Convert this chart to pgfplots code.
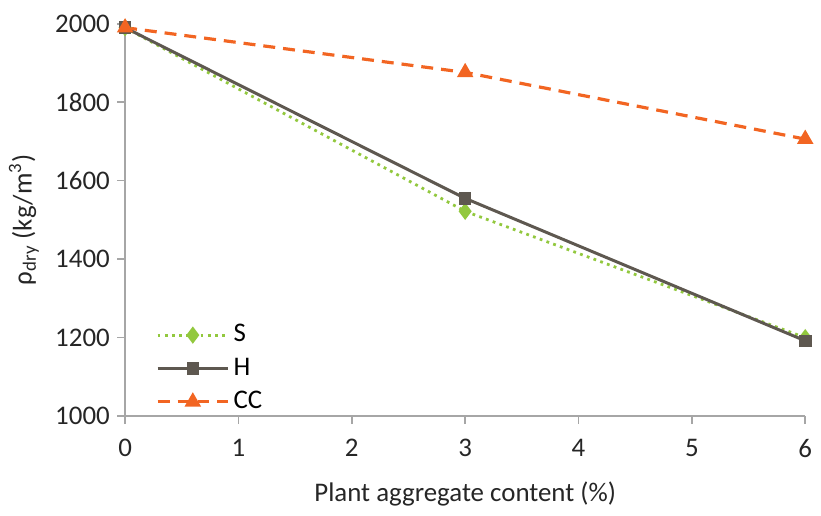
\documentclass[border=0pt]{standalone}
\usepackage{pgfplots}
\pgfplotsset{compat=1.18}
\usepackage{fontspec}
\setmainfont{Carlito}
\definecolor{sgreen}{HTML}{92C83E}
\definecolor{hgray}{HTML}{5E5850}
\definecolor{ccorange}{HTML}{F26522}
\definecolor{axgray}{HTML}{A6A6A6}
\begin{document}
\fontsize{13.5}{16}\selectfont
\begin{tikzpicture}
\begin{axis}[
  scale only axis,
  width=341.5pt, height=197pt,
  xmin=0, xmax=6, ymin=1000, ymax=2000,
  xtick={0,1,2,3,4,5,6},
  ytick={1000,1200,1400,1600,1800,2000},
  axis x line*=bottom, axis y line*=left,
  axis line style={axgray, line width=0.8pt, -},
  tick style={axgray, line width=0.8pt},
  major tick length=4pt,
  tick align=outside,
  clip=false,
  /pgf/number format/assume math mode=true,
  /pgf/number format/1000 sep={},
  tick label style={font=\fontsize{13.5}{16}\selectfont, color=black!85},
  xticklabel style={yshift=-3pt},
  yticklabel style={xshift=1pt},
  xlabel={Plant aggregate content (\%)},
  ylabel={ρ\textsubscript{dry} (kg/m\textsuperscript{3})},
  label style={font=\fontsize{13.5}{16}\selectfont, color=black!85},
  xlabel style={yshift=-3pt},
  ylabel style={yshift=-1pt},
  legend style={draw=none, fill=none, at={(0.045,0.245)}, anchor=north west,
    font=\fontsize{13.5}{16}\selectfont, row sep=2pt, inner sep=0pt},
  legend cell align=left,
  legend image code/.code={
    \draw[mark repeat=2, mark phase=2, #1] plot coordinates {(0cm,0cm) (0.62cm,0cm) (1.24cm,0cm)};
  },
]
\addplot[sgreen, line width=1.4pt, dash pattern=on 1.4pt off 2.2pt, mark=diamond*,
  mark size=3.2pt, mark options={solid, fill=sgreen, draw=sgreen}]
  coordinates {(0,1990) (3,1522) (6,1200)};
\addlegendentry{S}
\addplot[hgray, line width=1.5pt, mark=square*, mark size=2.4pt,
  mark options={solid, fill=hgray}]
  coordinates {(0,1990) (3,1555) (6,1192)};
\addlegendentry{H}
\addplot[ccorange, line width=1.6pt, dash pattern=on 6pt off 4pt, mark=triangle*,
  mark size=3.2pt, mark options={solid, fill=ccorange}]
  coordinates {(0,1990) (3,1876) (6,1706)};
\addlegendentry{CC}
\end{axis}
\path (current bounding box.north) ++(0,3pt);
\end{tikzpicture}
\end{document}
